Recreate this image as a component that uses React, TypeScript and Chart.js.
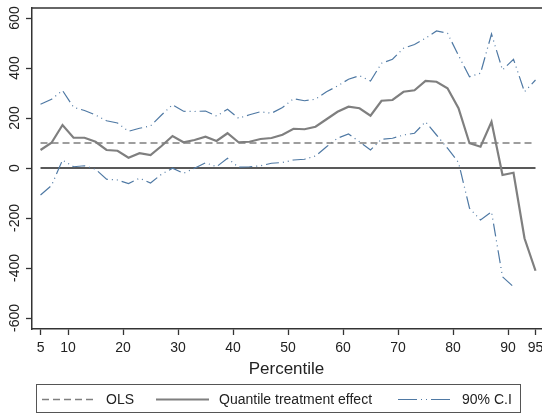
import React, { useEffect, useRef } from 'react';
import { Chart, registerables } from 'chart.js';

Chart.register(...registerables);

const percentiles = [5, 7, 9, 11, 13, 15, 17, 19, 21, 23, 25, 27, 29, 31, 33, 35, 37, 39, 41, 43, 45, 47, 49, 51, 53, 55, 57, 59, 61, 63, 65, 67, 69, 71, 73, 75, 77, 79, 81, 83, 85, 87, 89, 91, 93, 95];
const qte = [72, 101, 172, 121, 121, 105, 72, 69, 41, 59, 52, 88, 128, 103, 112, 125, 108, 139, 103, 105, 116, 120, 133, 157, 155, 165, 195, 225, 245, 239, 209, 269, 272, 305, 311, 348, 345, 319, 239, 99, 85, 185, -28, -19, -281, -411];
const ciUpper = [255, 275, 310, 243, 230, 212, 189, 180, 147, 159, 168, 212, 253, 227, 226, 228, 208, 235, 199, 213, 225, 219, 242, 277, 269, 275, 305, 328, 355, 369, 348, 419, 435, 479, 494, 519, 548, 539, 450, 365, 379, 536, 392, 435, 305, 352];
const ciLower: (number | null)[] = [-108, -70, 32, 5, 9, -5, -45, -48, -62, -41, -60, -25, -1, -21, -1, 21, 5, 39, 3, 5, 9, 19, 22, 32, 35, 48, 85, 119, 136, 105, 72, 115, 119, 132, 139, 185, 132, 79, 22, -161, -208, -175, -435, -475, null, null];
const olsValue = 100;
const lineRange = [5, 95];
const xTicks = [5, 10, 20, 30, 40, 50, 60, 70, 80, 90, 95];
const yTicks = [-600, -400, -200, 0, 200, 400, 600];

const FONT = "'Liberation Sans', Arial, sans-serif";
const TEXT = '#222';
const AXIS = '#333';
const GRAY = '#7f7f7f';
const BLUE = '#4f79a4';

const ciDash = [13, 4, 1, 4, 1, 4];
const olsDash = [7, 4];

const pts = (ys: (number | null)[]) => percentiles.map((x, i) => ({ x, y: ys[i] }));

const extrasPlugin = {
  id: 'extras',
  afterDraw(chart: any) {
    const { ctx, chartArea, scales } = chart;
    const yScale = scales.y;
    ctx.save();
    // top frame line
    ctx.strokeStyle = AXIS;
    ctx.lineWidth = 1.5;
    ctx.beginPath();
    ctx.moveTo(chartArea.left, chartArea.top);
    ctx.lineTo(chart.width, chartArea.top);
    ctx.stroke();
    // rotated y tick labels
    ctx.fillStyle = TEXT;
    ctx.font = `14px ${FONT}`;
    ctx.textAlign = 'center';
    ctx.textBaseline = 'middle';
    yTicks.forEach((v) => {
      const py = yScale.getPixelForValue(v);
      ctx.save();
      ctx.translate(15.5, py);
      ctx.rotate(-Math.PI / 2);
      ctx.fillText(String(v), 0, 0);
      ctx.restore();
    });
    // legend box
    ctx.strokeStyle = '#555';
    ctx.lineWidth = 1;
    ctx.strokeRect(36.5, 384.5, 484, 28);
    const ds = chart.data.datasets;
    const items = [
      { i: 1, x0: 42, x1: 97, tx: 106, dash: olsDash },
      { i: 0, x0: 156, x1: 209, tx: 219, dash: [] as number[] },
      { i: 2, x0: 398, x1: 452, tx: 462, dash: [19, 4, 1, 4, 1, 4] },
    ];
    const ly = 399.5;
    items.forEach((it) => {
      const d = ds[it.i];
      ctx.strokeStyle = d.borderColor;
      ctx.lineWidth = d.borderWidth;
      ctx.setLineDash(it.dash);
      ctx.beginPath();
      ctx.moveTo(it.x0, ly);
      ctx.lineTo(it.x1, ly);
      ctx.stroke();
      ctx.setLineDash([]);
      ctx.fillStyle = TEXT;
      ctx.textAlign = 'left';
      ctx.textBaseline = 'middle';
      ctx.font = `14px ${FONT}`;
      ctx.fillText(d.label, it.tx, 400);
    });
    ctx.restore();
  },
};

export default function App() {
  const ref = useRef<HTMLCanvasElement | null>(null);
  useEffect(() => {
    if (!ref.current) return;
    Chart.defaults.font.family = FONT;
    const chart = new Chart(ref.current, {
      type: 'line',
      data: {
        datasets: [
          {
            label: 'Quantile treatment effect',
            data: pts(qte),
            borderColor: GRAY,
            borderWidth: 2.2,
            pointRadius: 0,
            tension: 0,
          },
          {
            label: 'OLS',
            data: lineRange.map((x) => ({ x, y: olsValue })),
            borderColor: GRAY,
            borderWidth: 1.5,
            borderDash: olsDash,
            pointRadius: 0,
          },
          {
            label: '90% C.I',
            data: pts(ciUpper),
            borderColor: BLUE,
            borderWidth: 1.2,
            borderDash: ciDash,
            pointRadius: 0,
          },
          {
            label: '90% C.I lower',
            data: pts(ciLower),
            borderColor: BLUE,
            borderWidth: 1.2,
            borderDash: ciDash,
            pointRadius: 0,
            spanGaps: false,
          },
          {
            label: 'zero',
            data: lineRange.map((x) => ({ x, y: 0 })),
            borderColor: '#222',
            borderWidth: 1.3,
            pointRadius: 0,
          },
        ],
      },
      options: {
        animation: false,
        responsive: false,
        layout: { padding: { top: 8, right: 1, left: 0, bottom: 0 } },
        plugins: { legend: { display: false }, tooltip: { enabled: false } },
        scales: {
          x: {
            type: 'linear',
            min: 3.45,
            max: 96,
            afterBuildTicks: (s: any) => {
              s.ticks = xTicks.map((v) => ({ value: v }));
            },
            afterFit: (s: any) => {
              s.height = 88;
              s.paddingLeft = 0;
              s.paddingRight = 0;
            },
            grid: { drawOnChartArea: false, tickLength: 6, color: AXIS, tickWidth: 1.3 },
            border: { color: AXIS, width: 1.5 },
            ticks: {
              autoSkip: false,
              maxRotation: 0,
              padding: 5,
              color: TEXT,
              font: { size: 14 },
              callback: (v: any) => String(v),
            },
            title: {
              display: true,
              text: 'Percentile',
              color: TEXT,
              font: { size: 17 },
              padding: { top: 0, bottom: 37 },
            },
          },
          y: {
            type: 'linear',
            min: -644,
            max: 640,
            afterBuildTicks: (s: any) => {
              s.ticks = yTicks.map((v) => ({ value: v }));
            },
            afterFit: (s: any) => {
              s.width = 32;
              s.paddingTop = 0;
              s.paddingBottom = 0;
            },
            grid: { drawOnChartArea: false, tickLength: 6, color: AXIS, tickWidth: 1.3 },
            border: { color: AXIS, width: 1.5 },
            ticks: { display: false },
          },
        },
      },
      plugins: [extrasPlugin],
    } as any);
    return () => chart.destroy();
  }, []);
  return (
    <div style={{ position: 'fixed', left: 0, top: 0, width: 542, height: 417, background: '#fff' }}>
      <canvas ref={ref} width={542} height={417} style={{ display: 'block' }} />
    </div>
  );
}
